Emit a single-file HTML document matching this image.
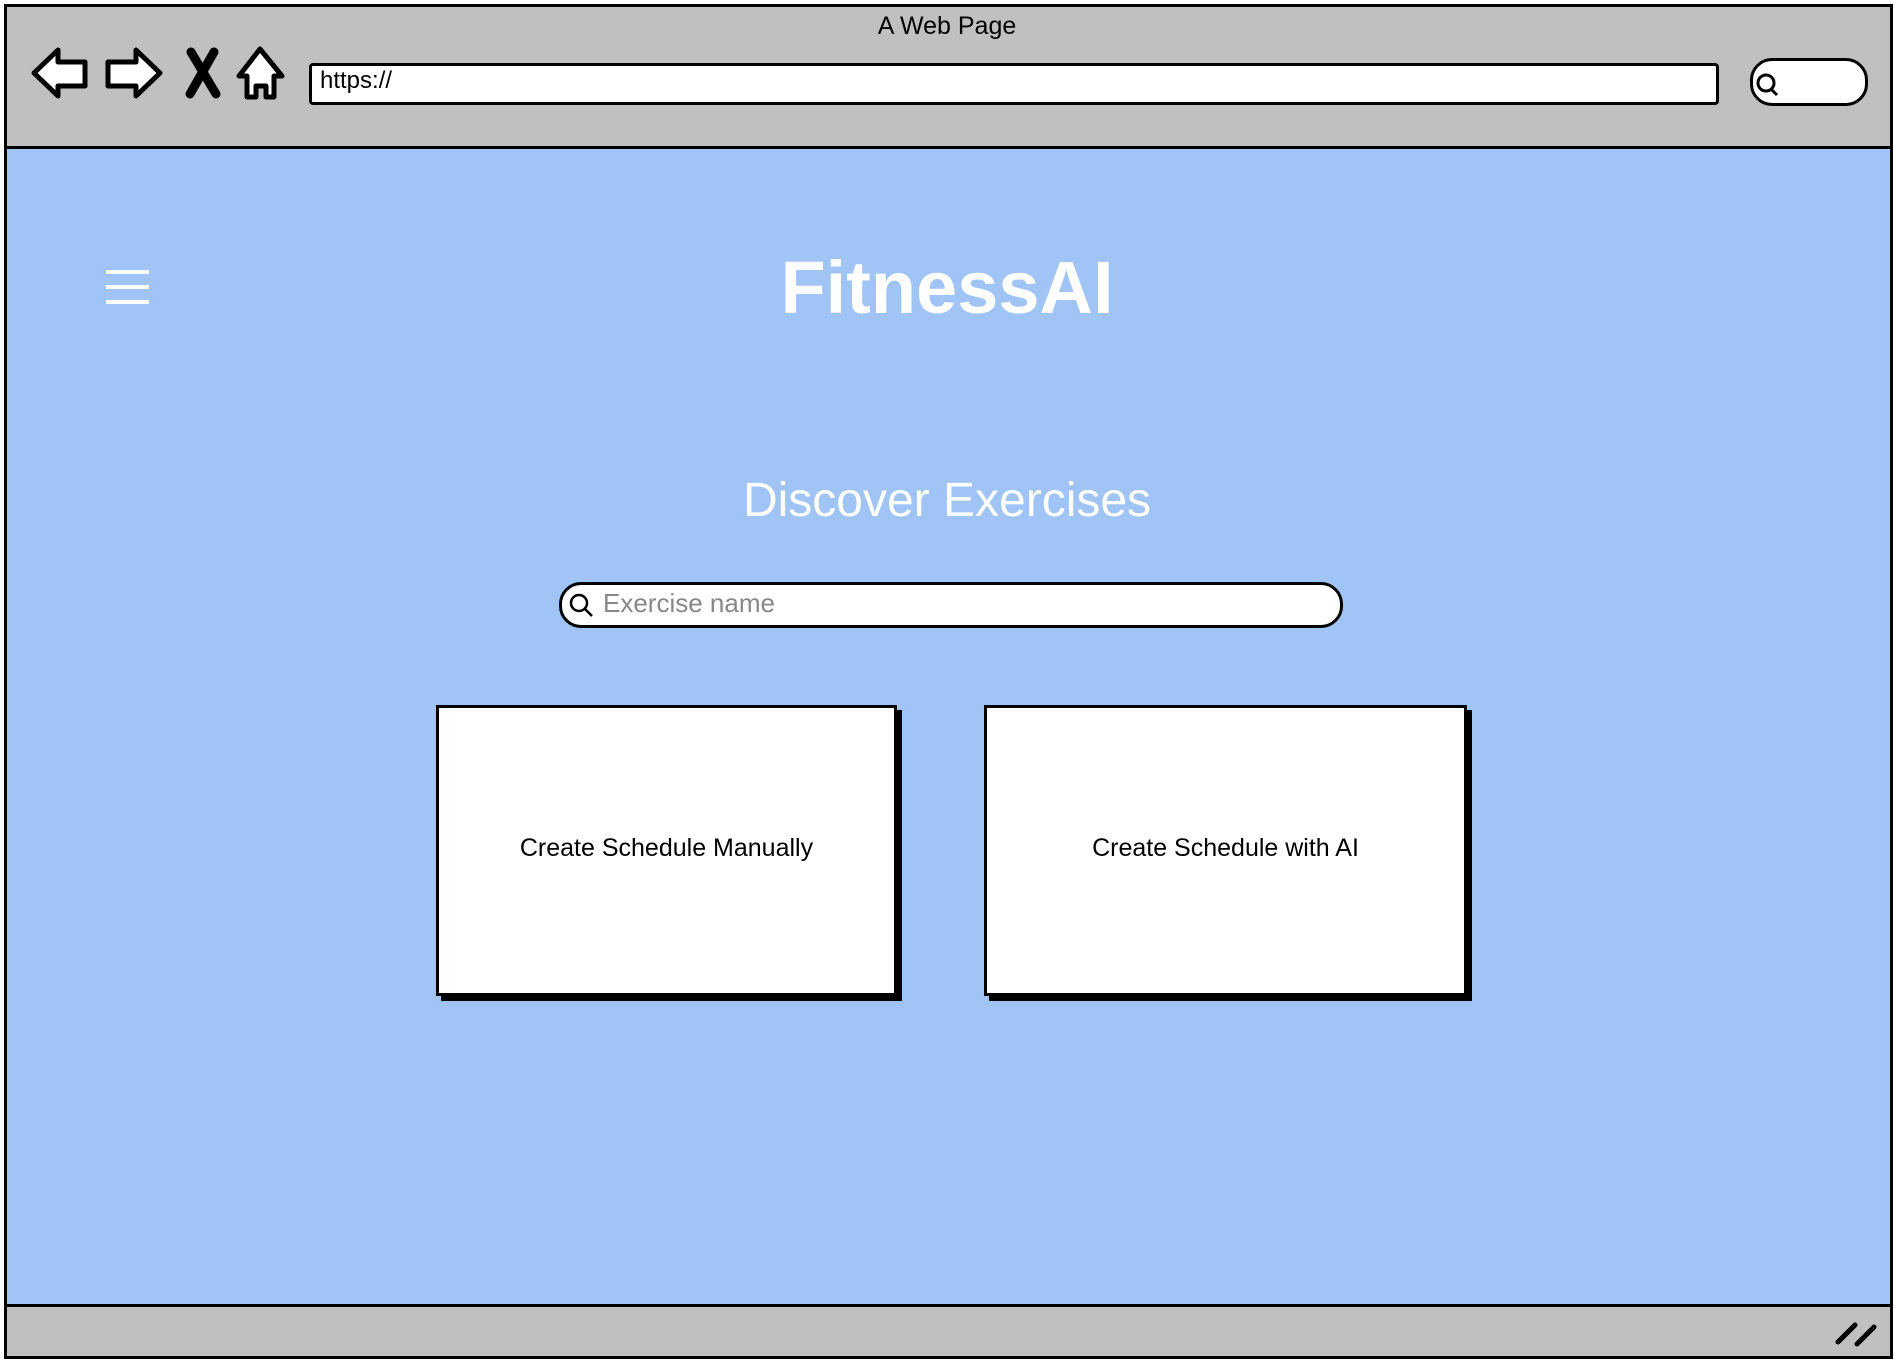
<!DOCTYPE html>
<html><head><meta charset="utf-8"><style>
body{margin:0;width:1894px;height:1360px;background:#fff;overflow:hidden;font-family:"Liberation Sans",sans-serif;}
.abs{position:absolute}
</style></head><body>
<div class="abs" style="left:4px;top:4px;width:1883px;height:1349px;border:3px solid #000;background:#a1c4f7;"></div>
<div class="abs" style="left:7px;top:7px;width:1883px;height:139px;background:#c0c0c0;border-bottom:3px solid #000;"></div>
<div class="abs" style="left:7px;top:1304px;width:1883px;height:49px;background:#c0c0c0;border-top:3px solid #000;"></div>
<div class="abs" style="left:0;width:1894px;top:12px;text-align:center;font-size:25px;color:#000;">A Web Page</div>
<div class="abs" style="left:309px;top:63px;width:1404px;height:36px;background:#fff;border:3px solid #000;border-radius:4px;"></div>
<div class="abs" style="left:320px;top:67px;font-size:24px;">https://</div>
<div class="abs" style="left:1750px;top:58px;width:112px;height:42px;background:#fff;border:3px solid #000;border-radius:22px;"></div>
<div class="abs" style="left:0;width:1894px;top:245px;text-align:center;font-size:74px;font-weight:bold;color:#fff;">FitnessAI</div>
<div class="abs" style="left:0;width:1894px;top:473px;text-align:center;font-size:48px;color:#fff;">Discover Exercises</div>
<div class="abs" style="left:559px;top:582px;width:778px;height:40px;background:#fff;border:3px solid #000;border-radius:22px;"></div>
<div class="abs" style="left:603px;top:588px;font-size:26px;color:#888;">Exercise name</div>
<div class="abs" style="left:436px;top:705px;width:455px;height:285px;background:#fff;border:3px solid #000;box-shadow:5px 5px 0 #000;"></div>
<div class="abs" style="left:436px;width:461px;top:834px;text-align:center;font-size:25px;">Create Schedule Manually</div>
<div class="abs" style="left:984px;top:705px;width:477px;height:285px;background:#fff;border:3px solid #000;box-shadow:5px 5px 0 #000;"></div>
<div class="abs" style="left:984px;width:483px;top:834px;text-align:center;font-size:25px;">Create Schedule with AI</div>
<svg class="abs" style="left:0;top:0" width="1894" height="1360">
<g fill="#fff" stroke="#000" stroke-width="5" stroke-linejoin="round">
<path d="M34 73 L58 50 L58 62 L85 62 L85 86 L58 86 L58 96 Z"/>
<path d="M160 73 L136 50 L136 62 L108 62 L108 86 L136 86 L136 96 Z"/>
<path d="M239 76 L260 49 L282 76 L274 76 L274 97 L266 97 L266 86 L256 86 L256 97 L247 97 L247 76 Z"/>
</g>
<path d="M191 52 L216 94 M214 52 L190 94" stroke="#000" stroke-width="9" stroke-linecap="round"/>
<path d="M1855 1325 L1838 1342 M1874 1327 L1857 1344" stroke="#000" stroke-width="5" stroke-linecap="round"/>
<g stroke="#fff" stroke-width="4"><line x1="106" y1="272" x2="149" y2="272"/><line x1="106" y1="287" x2="149" y2="287"/><line x1="106" y1="302" x2="149" y2="302"/></g>
<circle cx="1766" cy="83" r="8" fill="none" stroke="#000" stroke-width="3"/><line x1="1771" y1="89" x2="1777" y2="95" stroke="#000" stroke-width="3"/>
<circle cx="579" cy="603" r="8" fill="none" stroke="#000" stroke-width="2.5"/><line x1="585" y1="609" x2="592" y2="616" stroke="#000" stroke-width="2.5"/>
</svg>
</body></html>
